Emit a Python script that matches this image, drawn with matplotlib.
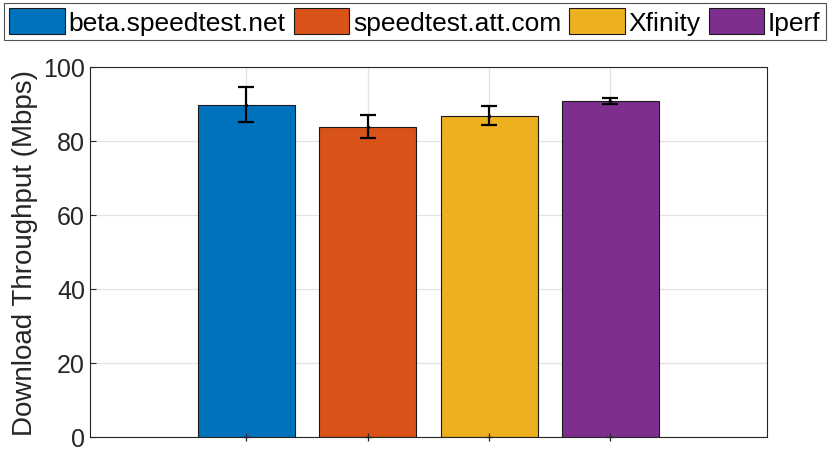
import numpy as np
import matplotlib
matplotlib.use("Agg")
import matplotlib.pyplot as plt

plt.rcParams['font.family'] = ['Liberation Sans', 'DejaVu Sans']

labels = ['beta.speedtest.net', 'speedtest.att.com', 'Xfinity', 'Iperf']
means = [89.8, 83.9, 86.8, 90.8]
errs = [4.7, 3.2, 2.6, 0.8]
colors = ['#0072BD', '#D95319', '#EDB120', '#7E2F8E']

fig = plt.figure(figsize=(8.3, 4.56), dpi=100)
ax = fig.add_axes([0.1084, 0.0395, 0.8157, 0.8115])

x = np.arange(1, len(means) + 1)
for i in range(len(means)):
    ax.bar(x[i], means[i], width=0.8, color=colors[i], edgecolor='#1a1a1a',
           linewidth=0.8, label=labels[i], zorder=2)
ax.errorbar(x, means, yerr=errs, fmt='none', ecolor='black', elinewidth=1.6,
            capsize=6, capthick=1.6, zorder=3)
ax.plot(x, means, linestyle='none', marker='.', color='black', markersize=3, zorder=3)
# small marks at the base of each bar
ax.plot(x, np.zeros(len(x)), linestyle='none', marker='+', color='#262626',
        markersize=6, markeredgewidth=0.9, zorder=4, clip_on=False)

ax.set_xlim(-0.29, 5.29)
ax.set_ylim(0, 100)
ax.set_yticks([0, 20, 40, 60, 80, 100])
ax.set_xticks(x)
ax.set_xticklabels([])
ax.tick_params(axis='x', direction='in', length=0)
ax.tick_params(axis='y', direction='in', length=4, labelsize=18, colors='#262626')
ax.grid(True, color='#e3e3e3', linewidth=0.9, zorder=0)
ax.set_axisbelow(True)
for s in ax.spines.values():
    s.set_color('#262626')
    s.set_linewidth(0.8)
ax.set_ylabel('Download Throughput (Mbps)', fontsize=20, color='#262626', labelpad=4)

leg = fig.legend(loc='upper center', bbox_to_anchor=(0.5, 0.997), ncol=4,
                 fontsize=19, frameon=True, fancybox=False, edgecolor='#262626',
                 handlelength=2.1, handleheight=1.1, handletextpad=0.15,
                 columnspacing=0.3, borderpad=0.2, borderaxespad=0.1)
leg.get_frame().set_linewidth(0.8)

fig.savefig('out.png', dpi=100)
